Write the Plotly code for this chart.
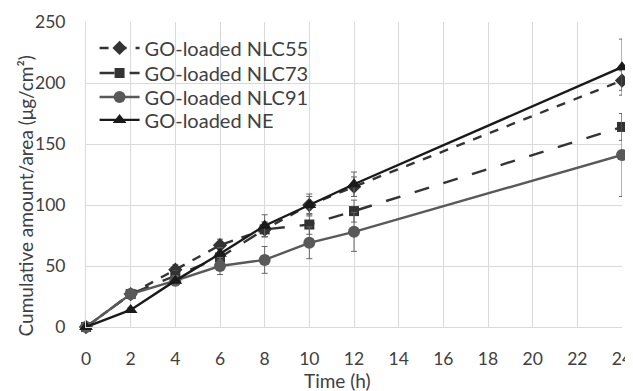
import plotly.graph_objects as go

time_h = [0, 2, 4, 6, 8, 10, 12, 24]
nlc55 = [0, 27, 47, 67, 80, 100, 115, 202]
nlc55_err = [0, 3, 4, 5, 6, 7, 8, 8]
nlc73 = [0, 27, 42, 57, 80, 84, 95, 164]
nlc73_err = [0, 3, 4, 5, 6, 8, 9, 11]
nlc91 = [0, 27, 38, 50, 55, 69, 78, 141]
nlc91_err = [0, 3, 4, 7, 11, 13, 16, 34]
ne = [0, 14, 38, 60, 83, 100, 117, 213]
ne_err = [0, 2, 4, 5, 9, 9, 10, 23]

series = [
    ("GO-loaded NLC55", nlc55, nlc55_err, "#333333", "dash", "diamond", 11),
    ("GO-loaded NLC73", nlc73, nlc73_err, "#333333", "longdash", "square", 10),
    ("GO-loaded NLC91", nlc91, nlc91_err, "#595959", "solid", "circle", 12),
    ("GO-loaded NE", ne, ne_err, "#1a1a1a", "solid", "triangle-up", 12),
]
legend_ids = ["legend", "legend2", "legend3", "legend4"]
legend_y = [0.915, 0.833, 0.754, 0.679]

font_family = "Lato, 'Open Sans', sans-serif"
text_color = "#404040"

fig = go.Figure()
for (name, y, err, color, dash, sym, size), lid in zip(series, legend_ids):
    fig.add_trace(go.Scatter(
        x=time_h, y=y, name=name, mode="lines+markers", legend=lid,
        line=dict(color=color, width=2.4, dash=dash),
        marker=dict(symbol=sym, size=size, color=color),
        error_y=dict(type="data", array=err, visible=True, color="#666666", thickness=1, width=3),
        cliponaxis=False,
    ))

legend_layout = {}
for lid, ly in zip(legend_ids, legend_y):
    legend_layout[lid] = dict(x=0.016, y=ly, xanchor="left", yanchor="middle",
                              bgcolor="rgba(255,255,255,0)",
                              font=dict(size=20, color=text_color, family=font_family),
                              itemwidth=40)

fig.update_layout(
    width=625, height=383,
    margin=dict(l=78, r=11, t=14, b=64),
    paper_bgcolor="white", plot_bgcolor="white",
    font=dict(family=font_family, size=17, color=text_color),
    xaxis=dict(range=[0, 24], tickvals=list(range(0, 25, 2)), showgrid=True,
               gridcolor="#d9d9d9", gridwidth=1, zeroline=False,
               showline=True, linecolor="#d9d9d9", automargin=False,
               tickfont=dict(size=17.5), ticks="", ticklabelstandoff=16),
    yaxis=dict(range=[0, 250], tickvals=[0, 50, 100, 150, 200, 250], showgrid=True,
               gridcolor="#d9d9d9", gridwidth=1, zeroline=False,
               showline=True, linecolor="#d9d9d9", automargin=False,
               tickfont=dict(size=17.5), ticks="", ticklabelstandoff=16),
    showlegend=True,
    annotations=[
        dict(text="Cumulative amount/area (μg/cm²)", textangle=-90,
             xref="paper", yref="paper", x=-0.113, y=0.4295,
             xanchor="center", yanchor="middle", showarrow=False,
             font=dict(size=19, color=text_color, family=font_family)),
        dict(text="Time (h)", xref="paper", yref="paper", x=0.4696, y=-0.174,
             xanchor="center", yanchor="middle", showarrow=False,
             font=dict(size=19, color=text_color, family=font_family)),
    ],
    **legend_layout,
)

fig.write_html("out.html")
